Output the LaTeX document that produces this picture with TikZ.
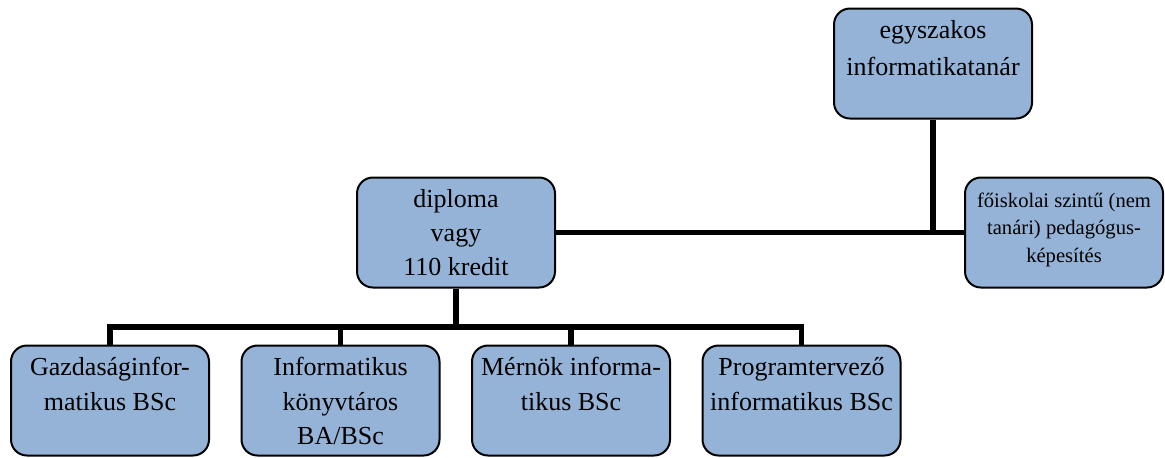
\documentclass[tikz,border=0pt]{standalone}
\usepackage{fontspec}
\setmainfont{Liberation Serif}
\usetikzlibrary{calc}
\definecolor{boxblue}{RGB}{149,179,215}
\newcommand{\boxtext}[3]{\parbox[c][55pt][t]{99pt}{\centering\fontsize{#1}{#2}\selectfont\rule{0pt}{15pt}#3}}

\begin{document}
\begin{tikzpicture}[x=0.5pt,y=-0.5pt]
\tikzset{box/.style = {shape=rectangle,draw,line width=1pt,rounded corners=8pt,fill=boxblue,inner sep=0pt,minimum width=99pt,minimum height=55pt}}
\tikzset{link/.style = {line width=2.8pt}}
\useasboundingbox (0,0) rectangle (1165,457);

\node[box] (egy) at (933,63.5) {\boxtext{13}{18.25}{egyszakos\\informatikatanár}};
\node[box] (diploma) at (456,232.5) {\boxtext{13}{17}{diploma\\vagy\\110 kredit}};
\node[box] (fos) at (1064,232.5) {\boxtext{10.3}{13.65}{főiskolai szintű (nem\\tanári) pedagógus-\\képesítés}};
\node[box] (gazd) at (110,400.5) {\boxtext{13}{17.25}{Gazdaságinfor-\\matikus BSc}};
\node[box] (konyv) at (340.5,400.5) {\boxtext{13}{17.25}{Informatikus\\könyvtáros\\BA/BSc}};
\node[box] (mern) at (571,400.5) {\boxtext{13}{17.25}{Mérnök informa-\\tikus BSc}};
\node[box] (prog) at (801.5,400.5) {\boxtext{13}{17.25}{Programtervező\\informatikus BSc}};

\coordinate (join) at (933,232.5);
\coordinate (split) at (456,327);

\draw[link] (diploma) -- (fos);
\draw[link] (egy) -- (join);
\draw[link] (diploma) -- (split);
\draw[link] (gazd) |- (split) -| (prog);
\draw[link] (split -| konyv) -- (konyv);
\draw[link] (split -| mern) -- (mern);

\end{tikzpicture}
\end{document}
